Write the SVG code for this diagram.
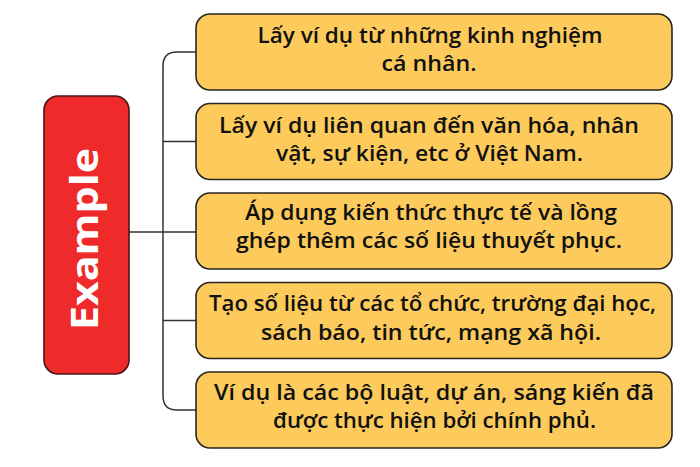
<svg xmlns="http://www.w3.org/2000/svg" width="700" height="467" viewBox="0 0 700 467">
<style>
.box{fill:#FDCB5B;stroke:#2b2620;stroke-width:1.6}
.t{font-family:"Open Sans","Noto Sans",sans-serif;font-weight:600;font-size:21px;fill:#111;text-anchor:middle}
.con{fill:none;stroke:#333;stroke-width:1.5}
</style>
<rect width="700" height="467" fill="#fff"/>
<g id="connectors">
<path class="con" d="M196,52 H177 Q163,52 163,66 V396 Q163,410 177,410 H196"/>
<path class="con" d="M163,141.5 H196 M129,232 H196 M163,320.5 H196"/>
</g>
<g id="root">
<rect x="44" y="96" width="85" height="278" rx="14" fill="#EE2A2A" stroke="#4a1414" stroke-width="1.6"/>
<text transform="translate(98,239) rotate(-90)" text-anchor="middle" font-family="'Open Sans','Noto Sans',sans-serif" font-weight="700" font-size="38" fill="#fff" textLength="182" lengthAdjust="spacingAndGlyphs">Example</text>
</g>
<g id="n1">
<rect class="box" x="196" y="14" width="476" height="76" rx="14"/>
<text class="t" x="430" y="43" textLength="345" lengthAdjust="spacingAndGlyphs">Lấy ví dụ từ những kinh nghiệm</text>
<text class="t" x="429" y="71" textLength="95" lengthAdjust="spacingAndGlyphs">cá nhân.</text>
</g>
<g id="n2">
<rect class="box" x="196" y="103.5" width="476" height="76" rx="14"/>
<text class="t" x="429" y="133" textLength="420" lengthAdjust="spacingAndGlyphs">Lấy ví dụ liên quan đến văn hóa, nhân</text>
<text class="t" x="429.5" y="161" textLength="307" lengthAdjust="spacingAndGlyphs">vật, sự kiện, etc ở Việt Nam.</text>
</g>
<g id="n3">
<rect class="box" x="196" y="193" width="476" height="76" rx="14"/>
<text class="t" x="431" y="220" textLength="372" lengthAdjust="spacingAndGlyphs">Áp dụng kiến thức thực tế và lồng</text>
<text class="t" x="429" y="248" textLength="386" lengthAdjust="spacingAndGlyphs">ghép thêm các số liệu thuyết phục.</text>
</g>
<g id="n4">
<rect class="box" x="196" y="282.5" width="476" height="76" rx="14"/>
<text class="t" x="432.5" y="311" textLength="447" lengthAdjust="spacingAndGlyphs">Tạo số liệu từ các tổ chức, trường đại học,</text>
<text class="t" x="431" y="340" textLength="340" lengthAdjust="spacingAndGlyphs">sách báo, tin tức, mạng xã hội.</text>
</g>
<g id="n5">
<rect class="box" x="196" y="372" width="476" height="76" rx="14"/>
<text class="t" x="434" y="400" textLength="440" lengthAdjust="spacingAndGlyphs">Ví dụ là các bộ luật, dự án, sáng kiến đã</text>
<text class="t" x="434.5" y="428" textLength="323" lengthAdjust="spacingAndGlyphs">được thực hiện bởi chính phủ.</text>
</g>
</svg>
